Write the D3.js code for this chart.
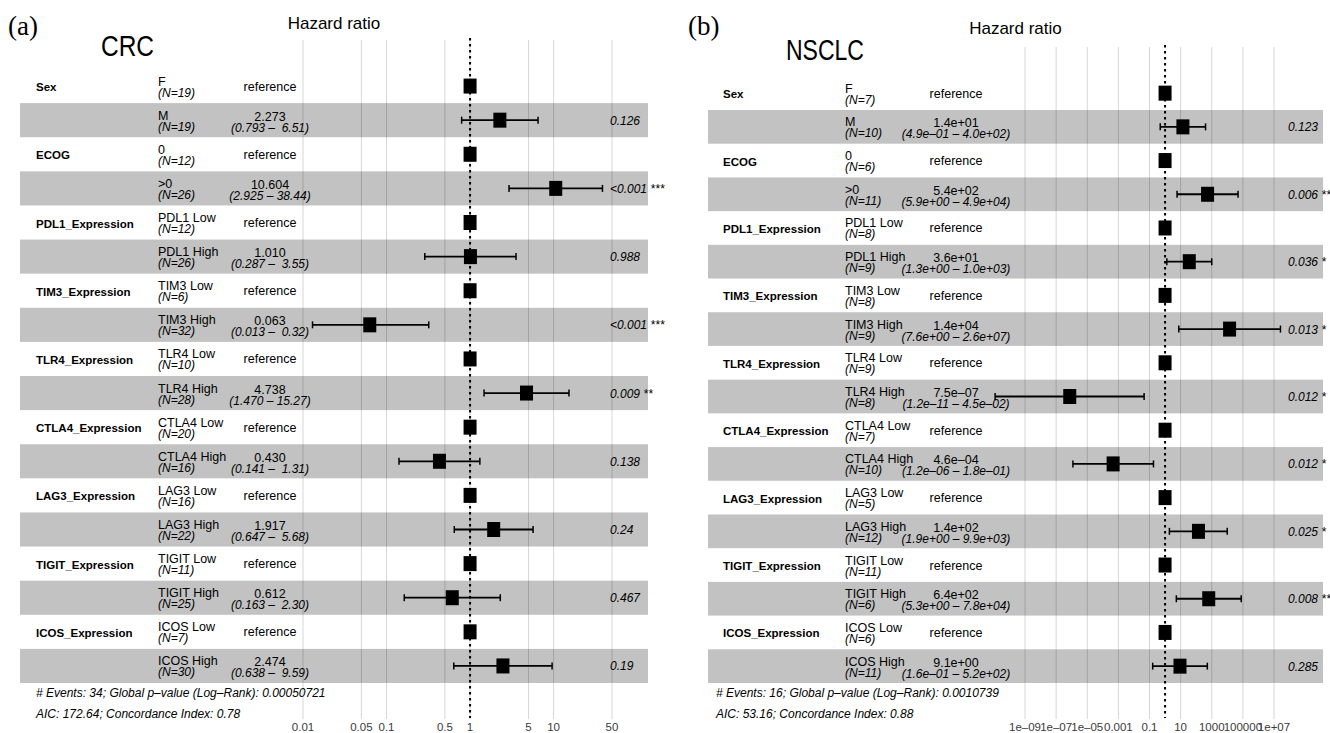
<!DOCTYPE html>
<html><head><meta charset="utf-8">
<script src="https://cdn.jsdelivr.net/npm/d3@7"></script>
<style>
body{margin:0;background:#fff}
svg{display:block}
text{font-family:"Liberation Sans",Arial,Helvetica,sans-serif;white-space:pre}
</style>
</head><body>
<svg id="chart" width="1330" height="733"></svg>
<script>
// ---------- Panel (a): CRC ----------
const crcVariables = ["Sex","ECOG","PDL1_Expression","TIM3_Expression","TLR4_Expression","CTLA4_Expression","LAG3_Expression","TIGIT_Expression","ICOS_Expression"];
const crcLevels = ["F","M","0",">0","PDL1 Low","PDL1 High","TIM3 Low","TIM3 High","TLR4 Low","TLR4 High","CTLA4 Low","CTLA4 High","LAG3 Low","LAG3 High","TIGIT Low","TIGIT High","ICOS Low","ICOS High"];
const crcN = [19,19,12,26,12,26,6,32,10,28,20,16,16,22,11,25,7,30];
const crcHR = [1,2.273,1,10.604,1,1.010,1,0.063,1,4.738,1,0.430,1,1.917,1,0.612,1,2.474];
const crcLower = [null,0.793,null,2.925,null,0.287,null,0.013,null,1.470,null,0.141,null,0.647,null,0.163,null,0.638];
const crcUpper = [null,6.51,null,38.44,null,3.55,null,0.32,null,15.27,null,1.31,null,5.68,null,2.30,null,9.59];
const crcEstimateText = ["reference","2.273","reference","10.604","reference","1.010","reference","0.063","reference","4.738","reference","0.430","reference","1.917","reference","0.612","reference","2.474"];
const crcCIText = ["","(0.793 –  6.51)","","(2.925 – 38.44)","","(0.287 –  3.55)","","(0.013 –  0.32)","","(1.470 – 15.27)","","(0.141 –  1.31)","","(0.647 –  5.68)","","(0.163 –  2.30)","","(0.638 –  9.59)"];
const crcPText = ["","0.126","","<0.001 ***","","0.988","","<0.001 ***","","0.009 **","","0.138","","0.24","","0.467","","0.19"];
const crcTicks = [0.01,0.05,0.1,0.5,1,5,10,50];
const crcTickLabels = ["0.01","0.05","0.1","0.5","1","5","10","50"];
const crcFooter = ["# Events: 34; Global p–value (Log–Rank): 0.00050721","AIC: 172.64; Concordance Index: 0.78"];

// ---------- Panel (b): NSCLC ----------
const nsclcVariables = crcVariables.slice();
const nsclcLevels = crcLevels.slice();
const nsclcN = [7,10,6,11,8,9,8,9,9,8,7,10,5,12,11,6,6,11];
const nsclcHR = [1,14,1,540,1,36,1,14000,1,7.5e-7,1,4.6e-4,1,140,1,640,1,9.1];
const nsclcLower = [null,0.49,null,5.9,null,1.3,null,7.6,null,1.2e-11,null,1.2e-6,null,1.9,null,5.3,null,0.16];
const nsclcUpper = [null,400,null,4.9e4,null,1.0e3,null,2.6e7,null,4.5e-2,null,0.18,null,9.9e3,null,7.8e4,null,520];
const nsclcEstimateText = ["reference","1.4e+01","reference","5.4e+02","reference","3.6e+01","reference","1.4e+04","reference","7.5e–07","reference","4.6e–04","reference","1.4e+02","reference","6.4e+02","reference","9.1e+00"];
const nsclcCIText = ["","(4.9e–01 – 4.0e+02)","","(5.9e+00 – 4.9e+04)","","(1.3e+00 – 1.0e+03)","","(7.6e+00 – 2.6e+07)","","(1.2e–11 – 4.5e–02)","","(1.2e–06 – 1.8e–01)","","(1.9e+00 – 9.9e+03)","","(5.3e+00 – 7.8e+04)","","(1.6e–01 – 5.2e+02)"];
const nsclcPText = ["","0.123","","0.006 **","","0.036 *","","0.013 *","","0.012 *","","0.012 *","","0.025 *","","0.008 **","","0.285"];
const nsclcTicks = [1e-9,1e-7,1e-5,1e-3,1e-1,10,1e3,1e5,1e7];
const nsclcTickLabels = ["1e–09","1e–07","1e–05","0.001","0.1","10","1000","100000","1e+07"];
const nsclcFooter = ["# Events: 16; Global p–value (Log–Rank): 0.0010739","AIC: 53.16; Concordance Index: 0.88"];

const svg = d3.select("#chart");

function drawPanel(cfg) {
  const g = svg.append("g");
  const n = cfg.levels.length;
  const x = d3.scaleLog().domain(cfg.domain).range(cfg.range);
  const y = d3.scaleBand().domain(d3.range(n)).range([cfg.rowTop, cfg.rowBottom]).paddingInner(0).paddingOuter(0);
  const cy = i => y(i) + y.bandwidth() / 2;

  // panel label, subtitle, title
  g.append("text").attr("x", cfg.tagX).attr("y", 35)
    .style("font-family", "'Liberation Serif','Times New Roman',serif").style("font-size", "27px").text(cfg.tag);
  g.append("text").attr("x", cfg.nameX).attr("y", cfg.nameY)
    .attr("textLength", cfg.nameWidth).attr("lengthAdjust", "spacingAndGlyphs")
    .style("font-size", "29px").text(cfg.name);
  g.append("text").attr("x", (cfg.bandX0 + cfg.bandX1) / 2).attr("y", cfg.titleY)
    .attr("text-anchor", "middle").style("font-size", "17px").text("Hazard ratio");

  // grid lines
  g.selectAll("line.grid").data(cfg.ticks).join("line").attr("class", "grid")
    .attr("x1", d => x(d)).attr("x2", d => x(d))
    .attr("y1", cfg.gridTop).attr("y2", 719)
    .attr("stroke", "#d6d6d6").attr("stroke-width", 1);

  // alternating bands
  g.selectAll("rect.band").data(d3.range(n).filter(i => i % 2 === 1)).join("rect").attr("class", "band")
    .attr("x", cfg.bandX0).attr("width", cfg.bandX1 - cfg.bandX0)
    .attr("y", i => y(i)).attr("height", y.bandwidth())
    .attr("fill", "rgba(0,0,0,0.24)");

  // tick labels
  g.selectAll("text.tick").data(cfg.ticks).join("text").attr("class", "tick")
    .attr("x", d => x(d)).attr("y", 731).attr("text-anchor", "middle")
    .style("font-size", "11.5px").attr("fill", "#3a3a3a")
    .text((d, i) => cfg.tickLabels[i]);

  // variable names
  g.selectAll("text.var").data(cfg.variables).join("text").attr("class", "var")
    .attr("x", cfg.varX).attr("y", (d, i) => cy(i * 2) + 5)
    .style("font-size", "11.5px").style("font-weight", "bold").text(d => d);

  // levels and N
  const rows = d3.range(n);
  g.selectAll("text.level").data(rows).join("text").attr("class", "level")
    .attr("x", cfg.levelX).attr("y", i => cy(i) - 0.5)
    .style("font-size", "12.5px").text(i => cfg.levels[i]);
  g.selectAll("text.nn").data(rows).join("text").attr("class", "nn")
    .attr("x", cfg.levelX).attr("y", i => cy(i) + 10.5)
    .style("font-size", "12px").style("font-style", "italic").text(i => "(N=" + cfg.N[i] + ")");

  // estimates and CI
  g.selectAll("text.est").data(rows).join("text").attr("class", "est")
    .attr("x", cfg.estX).attr("text-anchor", "middle")
    .attr("y", i => cfg.estText[i] === "reference" ? cy(i) + 4.5 : cy(i) + 0.5)
    .style("font-size", "12.5px").text(i => cfg.estText[i]);
  g.selectAll("text.ci").data(rows).join("text").attr("class", "ci")
    .attr("x", cfg.estX).attr("text-anchor", "middle")
    .attr("y", i => cy(i) + 11.5)
    .style("font-size", "12px").style("font-style", "italic").text(i => cfg.ciText[i]);

  // p-values
  g.selectAll("text.p").data(rows).join("text").attr("class", "p")
    .attr("x", cfg.pX).attr("y", i => cy(i) + 4.5)
    .style("font-size", "12px").style("font-style", "italic").text(i => cfg.pText[i]);

  // error bars
  const ciRows = rows.filter(i => cfg.lower[i] != null);
  const eb = g.selectAll("g.eb").data(ciRows).join("g").attr("class", "eb");
  eb.append("line").attr("x1", i => x(cfg.lower[i])).attr("x2", i => x(cfg.upper[i]))
    .attr("y1", i => cy(i)).attr("y2", i => cy(i)).attr("stroke", "#000").attr("stroke-width", 1.8);
  eb.append("line").attr("x1", i => x(cfg.lower[i])).attr("x2", i => x(cfg.lower[i]))
    .attr("y1", i => cy(i) - 3.5).attr("y2", i => cy(i) + 3.5).attr("stroke", "#000").attr("stroke-width", 1.5);
  eb.append("line").attr("x1", i => x(cfg.upper[i])).attr("x2", i => x(cfg.upper[i]))
    .attr("y1", i => cy(i) - 3.5).attr("y2", i => cy(i) + 3.5).attr("stroke", "#000").attr("stroke-width", 1.5);

  // reference line at HR = 1
  g.append("line").attr("x1", x(1)).attr("x2", x(1)).attr("y1", cfg.gridTop - 2).attr("y2", 718)
    .attr("stroke", "#000").attr("stroke-width", 2).attr("stroke-dasharray", "2.5,3.5");

  // point estimates
  g.selectAll("rect.pt").data(rows).join("rect").attr("class", "pt")
    .attr("x", i => x(cfg.hr[i]) - 6.5).attr("y", i => cy(i) - 7.5)
    .attr("width", 13).attr("height", 15).attr("fill", "#000");

  // footer
  g.selectAll("text.foot").data(cfg.footer).join("text").attr("class", "foot")
    .attr("x", cfg.footX).attr("y", (d, i) => 697 + i * 20.5)
    .style("font-size", "12px").style("font-style", "italic").text(d => d);
}

drawPanel({
  tag: "(a)", tagX: 8, name: "CRC", nameX: 101, nameY: 56, nameWidth: 53, titleY: 29,
  variables: crcVariables, levels: crcLevels, N: crcN, hr: crcHR, lower: crcLower, upper: crcUpper,
  estText: crcEstimateText, ciText: crcCIText, pText: crcPText,
  ticks: crcTicks, tickLabels: crcTickLabels, footer: crcFooter,
  domain: [0.01, 50], range: [303, 612],
  rowTop: 69, rowBottom: 683, bandX0: 20, bandX1: 648, gridTop: 40,
  varX: 36, levelX: 158, estX: 270, pX: 610, footX: 36
});

drawPanel({
  tag: "(b)", tagX: 688, name: "NSCLC", nameX: 786, nameY: 60, nameWidth: 78, titleY: 34,
  variables: nsclcVariables, levels: nsclcLevels, N: nsclcN, hr: nsclcHR, lower: nsclcLower, upper: nsclcUpper,
  estText: nsclcEstimateText, ciText: nsclcCIText, pText: nsclcPText,
  ticks: nsclcTicks, tickLabels: nsclcTickLabels, footer: nsclcFooter,
  domain: [1e-9, 1e7], range: [1025, 1274],
  rowTop: 76.3, rowBottom: 683, bandX0: 708, bandX1: 1323, gridTop: 47,
  varX: 723, levelX: 845, estX: 956, pX: 1288, footX: 716
});
</script>
</body></html>
